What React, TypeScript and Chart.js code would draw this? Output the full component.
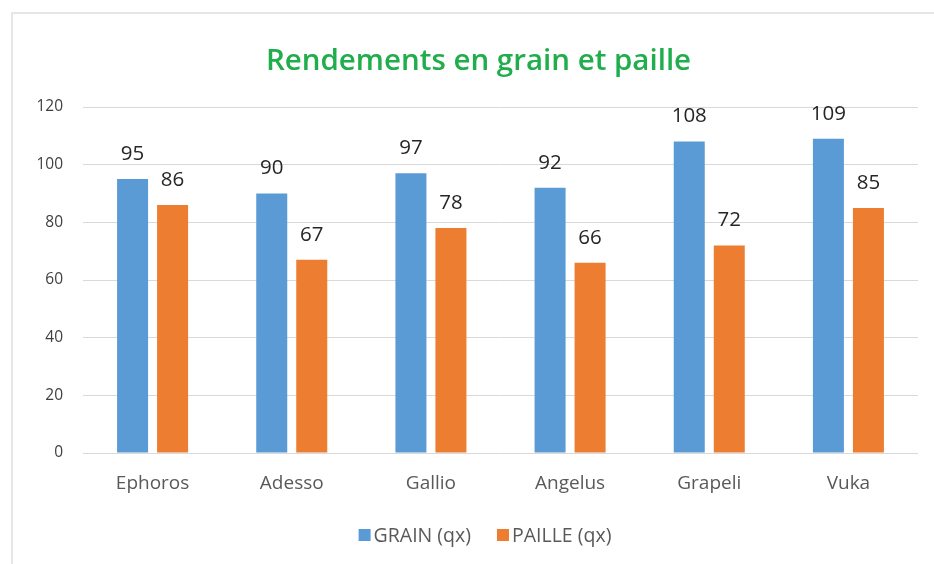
import React, { useEffect, useRef } from "react";
import { Chart, registerables } from "chart.js";

Chart.register(...registerables);

const categories = ["Ephoros", "Adesso", "Gallio", "Angelus", "Grapeli", "Vuka"];
const grainValues = [95, 90, 97, 92, 108, 109];
const pailleValues = [86, 67, 78, 66, 72, 85];
const seriesNames = ["GRAIN (qx)", "PAILLE (qx)"];
const seriesColors = ["#5b9bd5", "#ed7d31"];
const titleText = "Rendements en grain et paille";

const FONT = "'Open Sans', sans-serif";

const dataLabelPlugin = {
  id: "dataLabels",
  afterDatasetsDraw(chart: any) {
    const ctx = chart.ctx;
    ctx.save();
    ctx.font = `20.5px ${FONT}`;
    ctx.fillStyle = "#262626";
    ctx.textAlign = "center";
    ctx.textBaseline = "middle";
    chart.data.datasets.forEach((ds: any, di: number) => {
      const meta = chart.getDatasetMeta(di);
      meta.data.forEach((bar: any, i: number) => {
        ctx.fillText(String(ds.data[i]), bar.x, bar.y - 25);
      });
    });
    ctx.restore();
  },
};

const titleLegendPlugin = {
  id: "titleLegend",
  afterDraw(chart: any) {
    const ctx = chart.ctx;
    ctx.save();
    // title
    ctx.font = `600 29.5px ${FONT}`;
    ctx.fillStyle = "#1fae4b";
    ctx.textAlign = "center";
    ctx.textBaseline = "alphabetic";
    ctx.fillText(titleText, 478.5, 70);
    // legend
    ctx.font = `19.5px ${FONT}`;
    const box = 12;
    const gapText = 3;
    const gapItem = 26;
    const widths = chart.data.datasets.map((ds: any) => ctx.measureText(ds.label).width);
    let total = 0;
    widths.forEach((w: number, i: number) => {
      total += box + gapText + w + (i < widths.length - 1 ? gapItem : 0);
    });
    let x = 485 - total / 2;
    const cy = 535;
    ctx.textAlign = "left";
    ctx.textBaseline = "middle";
    chart.data.datasets.forEach((ds: any, i: number) => {
      ctx.fillStyle = ds.backgroundColor;
      ctx.fillRect(x, cy - box / 2, box, box);
      x += box + gapText;
      ctx.fillStyle = "#595959";
      ctx.fillText(ds.label, x, cy + 1);
      x += widths[i] + gapItem;
    });
    ctx.restore();
  },
};

export default function App() {
  const ref = useRef<HTMLCanvasElement>(null);
  useEffect(() => {
    if (!ref.current) return;
    const chart = new Chart(ref.current, {
      type: "bar",
      data: {
        labels: categories,
        datasets: [
          {
            label: seriesNames[0],
            data: grainValues,
            backgroundColor: seriesColors[0],
            barPercentage: 0.775,
            categoryPercentage: 0.575,
          },
          {
            label: seriesNames[1],
            data: pailleValues,
            backgroundColor: seriesColors[1],
            barPercentage: 0.775,
            categoryPercentage: 0.575,
          },
        ],
      },
      options: {
        responsive: false,
        animation: false,
        devicePixelRatio: 1,
        layout: { padding: { left: 0, right: 16, top: 107, bottom: 0 } },
        plugins: {
          title: { display: false },
          legend: { display: false },
          tooltip: { enabled: false },
        },
        scales: {
          x: {
            grid: { display: false, drawTicks: false },
            border: { display: false },
            ticks: {
              color: "#595959",
              font: { family: FONT, size: 19 },
              padding: 19,
            },
            afterFit(scale: any) {
              scale.height = 111;
            },
          },
          y: {
            min: 0,
            max: 120,
            grid: { color: "#d9d9d9", drawTicks: false },
            border: { display: false },
            ticks: {
              stepSize: 20,
              color: "#404040",
              font: { family: FONT, size: 15.5 },
              padding: 20,
            },
            afterFit(scale: any) {
              scale.width = 83;
            },
          },
        },
      },
      plugins: [dataLabelPlugin, titleLegendPlugin],
    });
    return () => chart.destroy();
  }, []);
  return (
    <div style={{ position: "fixed", left: 0, top: 0, width: 934, height: 564, background: "#fff" }}>
      <div
        style={{
          position: "absolute",
          left: 11,
          top: 12,
          width: 940,
          height: 570,
          borderLeft: "2px solid #e6e6e6",
          borderTop: "2px solid #e6e6e6",
        }}
      />
      <canvas ref={ref} width={934} height={564} style={{ position: "absolute", left: 0, top: 0 }} />
    </div>
  );
}
